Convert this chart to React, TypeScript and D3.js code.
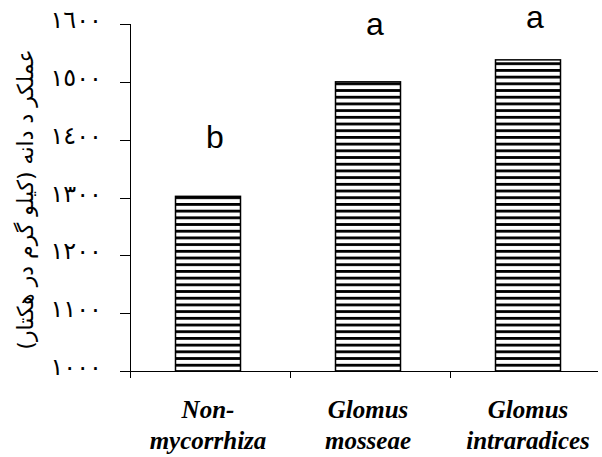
import React from "react";
import * as d3 from "d3";

const categories: string[][] = [["Non-", "mycorrhiza"], ["Glomus", "mosseae"], ["Glomus", "intraradices"]];
const values: number[] = [1302, 1500, 1538];
const letters: string[] = ["b", "a", "a"];
const letterLevels: number[] = [1386, 1581, 1593];
const yTicks: number[] = [1000, 1100, 1200, 1300, 1400, 1500, 1600];
const yTitle = "عملکر د دانه (کیلو گرم در هکتار)";

const toArabicDigits = (n: number) =>
  String(n).replace(/[0-9]/g, (d) => String.fromCharCode(0x0660 + Number(d)));

export default function App() {
  const W = 602, H = 457;
  const x = d3.scaleBand<number>().domain([0, 1, 2]).range([130, 610]).paddingInner(0).paddingOuter(0);
  const y = d3.scaleLinear().domain([1000, 1600]).range([371, 24]);
  const bw = 65;
  return (
    <svg width={W} height={H} style={{ position: "absolute", left: 0, top: 0, background: "#fff" }}>
      <defs>
        <pattern id="hstripe" patternUnits="userSpaceOnUse" width={8} height={6.7} y={2}>
          <rect x={0} y={0} width={8} height={6.7} fill="#fff" />
          <rect x={0} y={0} width={8} height={2.8} fill="#000" />
        </pattern>
      </defs>
      {/* y axis */}
      <line x1={130.5} x2={130.5} y1={y(1600)} y2={y(1000)} stroke="#000" strokeWidth={1} />
      {yTicks.map((t) => (
        <g key={t}>
          <line x1={120} x2={130} y1={Math.round(y(t)) + 0.5} y2={Math.round(y(t)) + 0.5} stroke="#000" />
          <text x={102} y={y(t) + 4} textAnchor="end" fontFamily="DejaVu Sans" fontSize={24} fill="#000">
            {toArabicDigits(t)}
          </text>
        </g>
      ))}
      {/* x axis */}
      <line x1={120} x2={598} y1={Math.round(y(1000)) + 0.5} y2={Math.round(y(1000)) + 0.5} stroke="#000" />
      {[0, 1, 2].map((i) => (
        <line key={i} x1={(x(i) as number) + 0.5} x2={(x(i) as number) + 0.5} y1={y(1000)} y2={y(1000) + 7} stroke="#000" />
      ))}
      {/* bars */}
      {values.map((v, i) => {
        const cx = (x(i) as number) + x.bandwidth() / 2 - 2;
        return (
          <rect key={i} x={cx - bw / 2} y={y(v)} width={bw} height={y(1000) - y(v)}
            fill="url(#hstripe)" stroke="#000" strokeWidth={1.5} />
        );
      })}
      {/* letters */}
      {letters.map((l, i) => (
        <text key={i} x={(x(i) as number) + x.bandwidth() / 2 + 5} y={y(letterLevels[i])}
          textAnchor="middle" fontFamily="'Liberation Sans', Arial" fontSize={32} fill="#000">{l}</text>
      ))}
      {/* x labels */}
      {categories.map((c, i) => (
        <text key={i} textAnchor="middle" style={{ fontFamily: "'Liberation Serif', 'DejaVu Serif', serif" }} fontWeight="bold"
          fontStyle="italic" fontSize={25} fill="#000">
          {c.map((line, j) => (
            <tspan key={j} x={(x(i) as number) + x.bandwidth() / 2 - 2} y={418 + j * 31}>{line}</tspan>
          ))}
        </text>
      ))}
      {/* y title */}
      <text transform={`translate(33, ${(y(1600) + y(1000)) / 2 + 2}) rotate(-90)`} textAnchor="middle"
        fontFamily="DejaVu Sans" fontSize={22} fill="#000" direction="rtl">{yTitle}</text>
    </svg>
  );
}
